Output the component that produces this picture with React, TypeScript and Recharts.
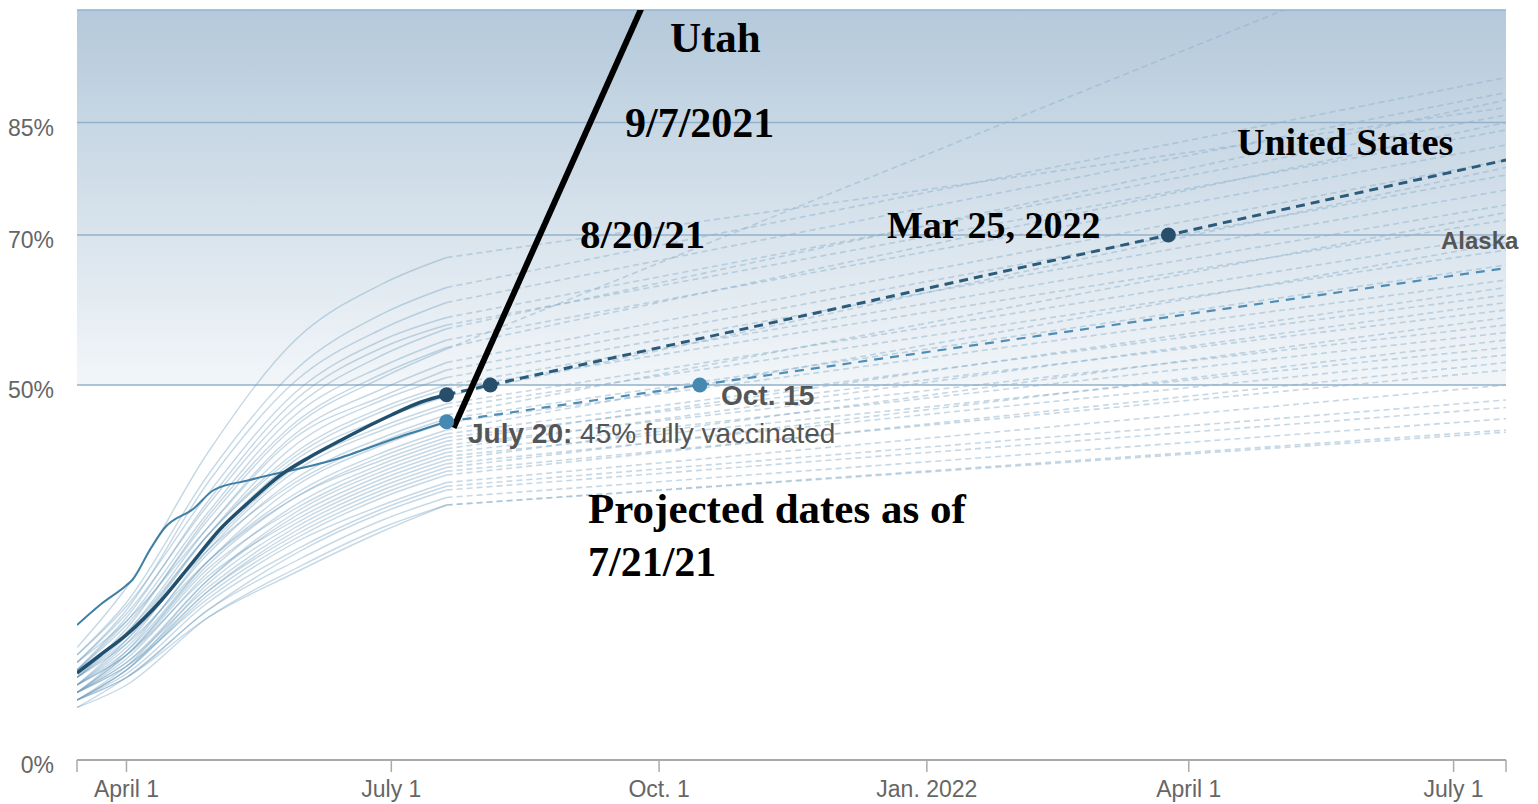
import { LineChart, Line, XAxis, YAxis, CartesianGrid, ReferenceDot } from 'recharts';

const SANS = '"Liberation Sans", Arial, sans-serif';
const SERIF = '"Liberation Serif", "Times New Roman", serif';

// x values are days counted from Mar 15, 2021
const X_TICKS = [0, 17, 108, 200, 292, 382, 473, 491];
const X_TICK_LABELS = ['', 'April 1', 'July 1', 'Oct. 1', 'Jan. 2022', 'April 1', 'July 1', ''];
const Y_TICKS = [0, 50, 70, 85];

const TODAY = 127; // July 20
const END_DAY = 491;

const US_DAYS = [0, 8, 17, 29, 39, 49, 60, 70, 80, 91, 101, 108, 118, 127];
const US_VALUES = [11.6, 14.0, 16.7, 21.3, 26.0, 30.7, 34.7, 38.0, 40.4, 42.7, 44.7, 46.0, 47.7, 48.7];
const US_PROJ_DAYS = [127, 142, 375, 491];
const US_PROJ_VALUES = [48.7, 50, 70, 80];

const AK_DAYS = [0, 8, 17, 19, 25, 30, 40, 47, 59, 88, 111, 127];
const AK_VALUES = [18.0, 20.7, 23.3, 24.0, 28.0, 30.9, 33.5, 36.0, 37.3, 40.0, 43.1, 45.1];
const AK_PROJ_DAYS = [127, 214, 491];
const AK_PROJ_VALUES = [45.1, 50, 65.6];

const UTAH_DAYS = [129.4, 194];
const UTAH_VALUES = [44.3, 100.3];

// other states: share of people fully vaccinated on these days
const STATE_DAYS = [0, 17, 45, 75, 105, 127];
const STATE_VALUES = [
  [15, 23, 41, 56, 63.5, 67],
  [14, 21, 38, 52, 59.5, 63],
  [13, 20, 37, 50.5, 57.5, 61],
  [14, 20.5, 35.5, 49, 56, 59],
  [12, 19, 34.5, 48, 55, 58],
  [13, 19.5, 34, 47, 54, 57.5],
  [12, 18.5, 33, 46, 52.5, 56],
  [11, 17.5, 32.5, 45, 51.5, 55],
  [12, 18, 32, 44.5, 51, 54.8],
  [11, 17, 31, 43.5, 49.5, 53],
  [13, 18.5, 31, 43, 48.5, 52],
  [10, 16, 30, 42, 48, 51],
  [11, 16.5, 30, 41, 47, 50],
  [12, 17, 30, 40.5, 46.5, 49.5],
  [10, 15.5, 29, 40, 45.5, 48.5],
  [11, 16, 28.5, 39, 44.5, 47.5],
  [9, 14.5, 28, 38.5, 44, 47],
  [10, 15, 27.5, 37.5, 43, 46],
  [12, 16.5, 28, 37, 42.5, 45.5],
  [9, 14, 26.5, 36.5, 42, 45],
  [10, 14.5, 26.5, 35.5, 41, 44],
  [9, 14, 26, 35, 40.5, 43.5],
  [11, 15.5, 26.5, 35, 40, 43],
  [9, 13.5, 25, 34, 39.5, 42.5],
  [10, 14, 25.5, 33.5, 39, 42],
  [8, 12.5, 24, 33, 38.5, 41.5],
  [9, 13, 24, 32.5, 38, 41],
  [10, 14, 24.5, 32, 37.5, 40.5],
  [8, 12, 23.5, 31.5, 37, 40],
  [9, 13, 23, 31, 36.5, 39.5],
  [8, 12, 22.5, 30.5, 36, 39],
  [9, 12.5, 22.5, 30, 35.5, 38.5],
  [8, 12, 22, 29.5, 35, 38],
  [9, 12.5, 21.5, 29, 34, 37],
  [8, 11.5, 21, 28, 33.5, 36.5],
  [7, 11, 20, 27.5, 33, 36],
  [8, 11, 20, 26.5, 32, 35],
  [7, 10, 19, 25.5, 31, 34],
  [8, 11, 19, 25, 30.5, 34],
];
const STATE_END = [
  87, 91, 89, 86, 84, 88, 82, 85, 112, 80, 78, 76, 74, 72, 79, 70, 68, 73, 66, 64,
  69, 62, 60, 63, 58, 61, 57, 55, 59, 54, 56, 52, 53, 50, 48, 47, 45.5, 44, 43.7,
];

const toPoints = (days: number[], values: number[]) =>
  days.map((day, i) => ({ day, v: values[i] }));

function YTick({ x, y, payload }: any) {
  return (
    <text x={x} y={y} dy={13} textAnchor="end" fill="#666" fontSize={23} fontFamily={SANS}>
      {payload.value}%
    </text>
  );
}

export default function App() {
  const stateLines = STATE_VALUES.map((vals, i) => ({
    hist: toPoints(STATE_DAYS, vals),
    proj: toPoints([TODAY, END_DAY], [vals[vals.length - 1], STATE_END[i]]),
  }));

  const serif = { fontFamily: SERIF, fontWeight: 'bold' as const, fill: '#000' };

  return (
    <div style={{ position: 'relative', width: 1530, height: 796 }}>
      <LineChart width={1530} height={796} margin={{ top: 2, right: 32, bottom: 0, left: 0 }}>
        <defs>
          <linearGradient id="bgGrad" x1="0" y1="0" x2="0" y2="1">
            <stop offset="0" stopColor="#b4c9db" />
            <stop offset="0.5" stopColor="#f2f6f9" />
            <stop offset="0.5" stopColor="#ffffff" />
            <stop offset="1" stopColor="#ffffff" />
          </linearGradient>
        </defs>
        <CartesianGrid vertical={false} stroke="#93b2ca" strokeWidth={1.5} fill="url(#bgGrad)" />
        <XAxis
          type="number"
          dataKey="day"
          domain={[0, END_DAY]}
          ticks={X_TICKS}
          interval={0}
          tickFormatter={(d: number) => X_TICK_LABELS[X_TICKS.indexOf(d)] ?? ''}
          allowDataOverflow
          height={44}
          axisLine={{ stroke: '#aaa', strokeWidth: 2 }}
          tickLine={{ stroke: '#aaa', strokeWidth: 1.5 }}
          tickSize={12}
          tickMargin={9}
          tick={{ fill: '#666', fontSize: 23, fontFamily: SANS }}
        />
        <YAxis
          type="number"
          domain={[0, 100]}
          ticks={Y_TICKS}
          allowDataOverflow
          width={69}
          axisLine={false}
          tickLine={false}
          tickSize={0}
          tickMargin={23}
          tick={<YTick />}
        />

        {stateLines.map((s, i) => (
          <Line
            key={`h${i}`}
            data={s.hist}
            dataKey="v"
            type="monotone"
            stroke="#6f9dbf"
            strokeOpacity={0.4}
            strokeWidth={1.4}
            dot={false}
            isAnimationActive={false}
          />
        ))}
        {stateLines.map((s, i) => (
          <Line
            key={`p${i}`}
            data={s.proj}
            dataKey="v"
            stroke="#8db1cb"
            strokeOpacity={0.5}
            strokeWidth={1.6}
            strokeDasharray="6 4"
            dot={false}
            isAnimationActive={false}
          />
        ))}

        <Line data={toPoints(AK_DAYS, AK_VALUES)} dataKey="v" type="monotone" stroke="#3f7ea5" strokeWidth={2} dot={false} isAnimationActive={false} />
        <Line data={toPoints(AK_PROJ_DAYS, AK_PROJ_VALUES)} dataKey="v" stroke="#4f8db6" strokeWidth={2.2} strokeDasharray="9 7" dot={false} isAnimationActive={false} />
        <Line data={toPoints(US_DAYS, US_VALUES)} dataKey="v" type="monotone" stroke="#21506f" strokeWidth={3.5} dot={false} isAnimationActive={false} />
        <Line data={toPoints(US_PROJ_DAYS, US_PROJ_VALUES)} dataKey="v" stroke="#2b5b7b" strokeWidth={3} strokeDasharray="9 6" dot={false} isAnimationActive={false} />

        <ReferenceDot x={US_PROJ_DAYS[0]} y={US_PROJ_VALUES[0]} r={7.5} fill="#274f6c" stroke="none" />
        <ReferenceDot x={US_PROJ_DAYS[1]} y={US_PROJ_VALUES[1]} r={7.5} fill="#274f6c" stroke="none" />
        <ReferenceDot x={US_PROJ_DAYS[2]} y={US_PROJ_VALUES[2]} r={7.5} fill="#274f6c" stroke="none" />
        <ReferenceDot x={AK_PROJ_DAYS[0]} y={AK_PROJ_VALUES[0]} r={7.5} fill="#4588b1" stroke="none" />
        <ReferenceDot x={AK_PROJ_DAYS[1]} y={AK_PROJ_VALUES[1]} r={7.5} fill="#4588b1" stroke="none" />

        <Line data={toPoints(UTAH_DAYS, UTAH_VALUES)} dataKey="v" stroke="#000" strokeWidth={6} dot={false} isAnimationActive={false} />
      </LineChart>

      <svg width={1530} height={796} style={{ position: 'absolute', left: 0, top: 0, pointerEvents: 'none' }}>
        <text x={662} y={44} fontSize={43} {...serif}>Utah</text>
        <text x={617} y={129} fontSize={42} {...serif}>9/7/2021</text>
        <text x={572} y={240} fontSize={41} {...serif}>8/20/21</text>
        <text x={879} y={230} fontSize={38} {...serif}>Mar 25, 2022</text>
        <text x={1229} y={147} fontSize={38} {...serif}>United States</text>
        <text x={580} y={515} fontSize={43} {...serif}>Projected dates as of</text>
        <text x={580} y={568} fontSize={42} {...serif}>7/21/21</text>
        <text x={460} y={435} fontSize={28} fontFamily={SANS} fill="#555">
          <tspan fontWeight="bold">July 20:</tspan>
          <tspan> 45% fully vaccinated</tspan>
        </text>
        <text x={713} y={397} fontSize={28} fontFamily={SANS} fontWeight="bold" fill="#555">Oct. 15</text>
        <text x={1433} y={241} fontSize={24} fontFamily={SANS} fontWeight="bold" fill="#555">Alaska</text>
      </svg>
    </div>
  );
}
